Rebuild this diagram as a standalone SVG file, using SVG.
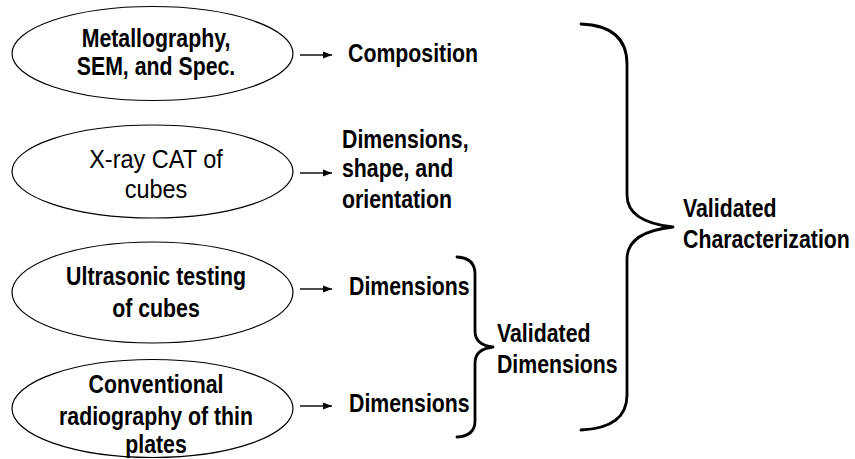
<svg xmlns="http://www.w3.org/2000/svg" width="855" height="459" viewBox="0 0 855 459">
<style>
.node ellipse{fill:#fff;stroke:#000;stroke-width:1.2}
.b{font-family:"Liberation Sans",Arial,sans-serif;font-weight:bold;font-size:21.3px;fill:#000}
.r{font-family:"Liberation Sans",Arial,sans-serif;font-size:23.5px;fill:#000}
.c{text-anchor:middle}
.conn line{stroke:#000;stroke-width:1.4}
.brace{fill:none;stroke:#000;stroke-width:2.8;stroke-linecap:round;stroke-linejoin:round}
</style>
<defs>
<marker id="ah" markerWidth="9" markerHeight="8" refX="9" refY="4" orient="auto" markerUnits="userSpaceOnUse">
<path d="M0,0.5 L9,4 L0,7.5 Z" fill="#000"/>
</marker>
</defs>
<rect width="855" height="459" fill="#fff"/>
<g id="n1" class="node">
<ellipse cx="152.5" cy="53.5" rx="140.5" ry="47"/>
<g transform="translate(156,47) scale(1,1.2)"><text class="b c" x="0" y="0">Metallography,<tspan x="0" dy="23.3">SEM, and Spec.</tspan></text></g>
</g>
<g id="n2" class="node">
<ellipse cx="152.5" cy="171.5" rx="140.5" ry="46.5"/>
<g transform="translate(156,168) scale(1,1.07)"><text class="r c" x="0" y="0">X-ray CAT of<tspan x="0" dy="28">cubes</tspan></text></g>
</g>
<g id="n3" class="node">
<ellipse cx="152.5" cy="292.5" rx="140.5" ry="50.5"/>
<g transform="translate(156,285) scale(1,1.2)"><text class="b c" x="0" y="0">Ultrasonic testing<tspan x="0" dy="26.5">of cubes</tspan></text></g>
</g>
<g id="n4" class="node">
<ellipse cx="152.5" cy="408.5" rx="140.5" ry="49"/>
<g transform="translate(156,393) scale(1,1.2)"><text class="b c" x="0" y="0">Conventional<tspan x="0" dy="26.5">radiography of thin</tspan><tspan x="0" dy="23.5">plates</tspan></text></g>
</g>
<g id="t1"><g transform="translate(348,62) scale(1,1.2)"><text class="b">Composition</text></g></g>
<g id="t2"><g transform="translate(342,148) scale(1,1.2)"><text class="b" x="0" y="0">Dimensions,<tspan x="0" dy="24.5">shape, and</tspan><tspan x="0" dy="25.5">orientation</tspan></text></g></g>
<g id="t3"><g transform="translate(349,295) scale(1,1.2)"><text class="b">Dimensions</text></g></g>
<g id="t4"><g transform="translate(349,412) scale(1,1.2)"><text class="b">Dimensions</text></g></g>
<g id="t5"><g transform="translate(497,342) scale(1,1.2)"><text class="b" x="0" y="0">Validated<tspan x="0" dy="26">Dimensions</tspan></text></g></g>
<g id="t6"><g transform="translate(683,217) scale(1,1.2)"><text class="b" x="0" y="0">Validated<tspan x="0" dy="26">Characterization</tspan></text></g></g>
<g id="connectors" class="conn">
<line x1="300" y1="55" x2="332" y2="55" marker-end="url(#ah)"/>
<line x1="300" y1="173" x2="332" y2="173" marker-end="url(#ah)"/>
<line x1="300" y1="289" x2="332" y2="289" marker-end="url(#ah)"/>
<line x1="300" y1="406" x2="332" y2="406" marker-end="url(#ah)"/>
<path class="brace" d="M457,257 Q475,258 475,274 L475,331 Q475,345 493,347 Q475,349 475,363 L475,421 Q475,436 457,437"/>
<path class="brace" d="M581,24 Q627,26 627,64 L627,195 Q627,222 673,227 Q627,232 627,259 L627,395 Q627,428 581,430"/>
</g>
</svg>
